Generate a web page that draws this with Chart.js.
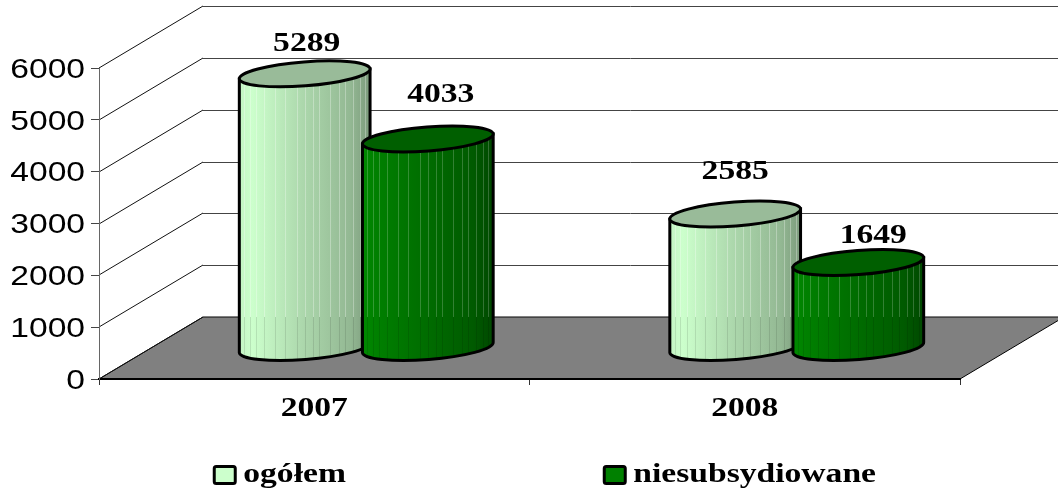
<!DOCTYPE html>
<html><head><meta charset="utf-8">
<style>html,body{margin:0;padding:0;background:#fff}canvas{display:block}</style>
<script src="https://cdn.jsdelivr.net/npm/chart.js@4"></script></head>
<body><canvas id="c" width="1058" height="490"></canvas>
<script>
const categories = ['2007', '2008'];
const ogolem = [5289, 2585];
const niesubsydiowane = [4033, 1649];
const seriesNames = ['ogółem', 'niesubsydiowane'];
const yTicks = [0, 1000, 2000, 3000, 4000, 5000, 6000];

const DX = 104, DY = -62, TEXT_STRETCH = 1.2;
const BAR_SHIFT = 52;
const legendAdvance = {'ogółem': 354, 'niesubsydiowane': 106.5};
const legendTextShift = 6;
const LEGEND_DROP = 9;
const labelNudge = [[[2, -30], [13, -44]], [[0, -42], [15, -27]]];
const stripeFractions = [.04,.08,.13,.19,.27,.35,.44,.5,.56,.61,.69,.76,.81,.87,.92,.96];
const looks = [
  {stops: [[0,'#c4f4c4'],[.1,'#ccffcc'],[.5,'#abd6ab'],[.85,'#93b893'],[1,'#7c9a7c']], top: '#99bb99',
   up: 'rgba(255,255,255,.3)', down: 'rgba(0,0,0,.1)'},
  {stops: [[0,'#008a00'],[.1,'#008000'],[.5,'#006c00'],[.85,'#005a00'],[1,'#004800']], top: '#005f00',
   up: 'rgba(255,255,255,.2)', down: 'rgba(0,0,0,.1)'}
];

const stage = {
  id: 'stage',
  beforeInit(chart) {
    const ctx = chart.ctx, fill = ctx.fillText.bind(ctx), measure = ctx.measureText.bind(ctx);
    ctx.fillText = function (t, x, y) {
      ctx.save();
      ctx.translate(seriesNames.includes(t) ? x - legendTextShift : x, y);
      ctx.scale(TEXT_STRETCH, 1);
      fill(t, 0, 0);
      ctx.restore();
    };
    ctx.measureText = function (t) {
      return t in legendAdvance ? {width: legendAdvance[t]} : measure(t);
    };
  },
  afterLayout(chart) {
    chart.legend.top += LEGEND_DROP;
    chart.legend.bottom += LEGEND_DROP;
  },
  beforeDraw(chart) {
    const ctx = chart.ctx, y = chart.scales.y, a = chart.chartArea;
    const W = chart.width;
    ctx.save();
    // floor
    ctx.beginPath();
    ctx.moveTo(a.left, a.bottom); ctx.lineTo(a.right, a.bottom);
    ctx.lineTo(a.right + DX, a.bottom + DY); ctx.lineTo(a.left + DX, a.bottom + DY);
    ctx.closePath();
    ctx.fillStyle = '#808080'; ctx.fill();
    ctx.strokeStyle = '#000'; ctx.lineWidth = 1; ctx.stroke();
    // walls
    yTicks.forEach(v => {
      const py = Math.round(y.getPixelForValue(v));
      ctx.beginPath();
      ctx.moveTo(a.left, py); ctx.lineTo(a.left + DX, py + DY);
      ctx.strokeStyle = '#111'; ctx.lineWidth = 1; ctx.stroke();
      ctx.beginPath();
      ctx.moveTo(a.left + DX, py + DY + .5); ctx.lineTo(W, py + DY + .5);
      ctx.strokeStyle = '#444'; ctx.stroke();
    });
    ctx.restore();
  },
  beforeDatasetsDraw(chart) {
    const ctx = chart.ctx, a = chart.chartArea;
    const TILT = -4.4 * Math.PI / 180, RY = 12;
    const floorBack = a.bottom + DY;
    chart.data.datasets.forEach((ds, di) => {
      const look = looks[di];
      chart.getDatasetMeta(di).data.forEach((el) => {
        const cx = el.x + BAR_SHIFT, topY = el.y + DY / 2, baseY = el.base + DY / 2, rx = el.width / 2;
        const dyEdge = rx * Math.sin(TILT), dxEdge = rx * Math.cos(TILT);
        const bodyPath = () => {
          ctx.beginPath();
          ctx.ellipse(cx, baseY, rx, RY, TILT, 0, Math.PI, false);
          ctx.lineTo(cx - dxEdge, topY - dyEdge);
          ctx.lineTo(cx + dxEdge, topY + dyEdge);
          ctx.closePath();
        };
        ctx.save();
        bodyPath();
        const g = ctx.createLinearGradient(cx - rx, 0, cx + rx, 0);
        look.stops.forEach(s => g.addColorStop(s[0], s[1]));
        ctx.fillStyle = g; ctx.fill();
        ctx.save();
        ctx.clip();
        ctx.lineWidth = 1;
        stripeFractions.forEach(f => {
          const sx = Math.round(cx - rx + f * 2 * rx) + .5;
          ctx.strokeStyle = look.up;
          ctx.beginPath(); ctx.moveTo(sx, topY - 20); ctx.lineTo(sx, floorBack); ctx.stroke();
          ctx.strokeStyle = look.down;
          ctx.beginPath(); ctx.moveTo(sx, floorBack); ctx.lineTo(sx, baseY + RY + 2); ctx.stroke();
        });
        ctx.restore();
        bodyPath();
        ctx.strokeStyle = '#000'; ctx.lineWidth = 3; ctx.stroke();
        ctx.beginPath();
        ctx.ellipse(cx, topY, rx, RY, TILT, 0, Math.PI * 2);
        ctx.fillStyle = look.top; ctx.fill(); ctx.stroke();
        ctx.restore();
      });
    });
    ctx.save();
    ctx.font = 'bold 28px "Liberation Serif"';
    ctx.fillStyle = '#000'; ctx.textAlign = 'center'; ctx.textBaseline = 'middle';
    chart.data.datasets.forEach((ds, di) => {
      chart.getDatasetMeta(di).data.forEach((el, i) => {
        const n = labelNudge[i][di];
        ctx.fillText(String(ds.data[i]), el.x + BAR_SHIFT + n[0], el.y + DY / 2 + n[1]);
      });
    });
    ctx.restore();
    return false;
  }
};

new Chart(document.getElementById('c'), {
  type: 'bar',
  plugins: [stage],
  data: {
    labels: categories,
    datasets: [
      {label: seriesNames[0], data: ogolem, backgroundColor: '#ccffcc'},
      {label: seriesNames[1], data: niesubsydiowane, backgroundColor: '#008000'}
    ]
  },
  options: {
    responsive: false,
    animation: false,
    categoryPercentage: 0.572,
    barPercentage: 1.065,
    layout: {padding: {top: 68, right: 98, left: 0, bottom: 0}},
    plugins: {
      tooltip: {enabled: false},
      title: {display: false},
      legend: {
        position: 'bottom',
        labels: {
          boxWidth: 21, boxHeight: 17, padding: 1, color: '#000',
          font: {family: '"Liberation Serif"', size: 28, weight: 'bold'},
          generateLabels(chart) {
            return chart.data.datasets.map((d, i) => ({
              text: d.label, fillStyle: d.backgroundColor, strokeStyle: '#000',
              lineWidth: 3, datasetIndex: i, borderRadius: 2
            }));
          }
        }
      }
    },
    scales: {
      x: {
        grid: {drawOnChartArea: false, drawTicks: true, tickLength: 6, tickColor: '#333', offset: true},
        border: {color: '#000', width: 2},
        ticks: {color: '#000', padding: 7, maxRotation: 0,
          font: {family: '"Liberation Serif"', size: 28, weight: 'bold'}},
        afterFit(s) { s.height = 72; }
      },
      y: {
        min: 0, max: 6000,
        grid: {drawOnChartArea: false, drawTicks: true, tickLength: 8, tickColor: '#444'},
        border: {color: '#666', width: 1},
        ticks: {color: '#000', padding: 6, stepSize: 1000, labelOffset: 2, callback: v => String(v),
          font: {family: '"Liberation Sans"', size: 28}},
        afterFit(s) { s.width = 99; }
      }
    }
  }
});
</script></body></html>
